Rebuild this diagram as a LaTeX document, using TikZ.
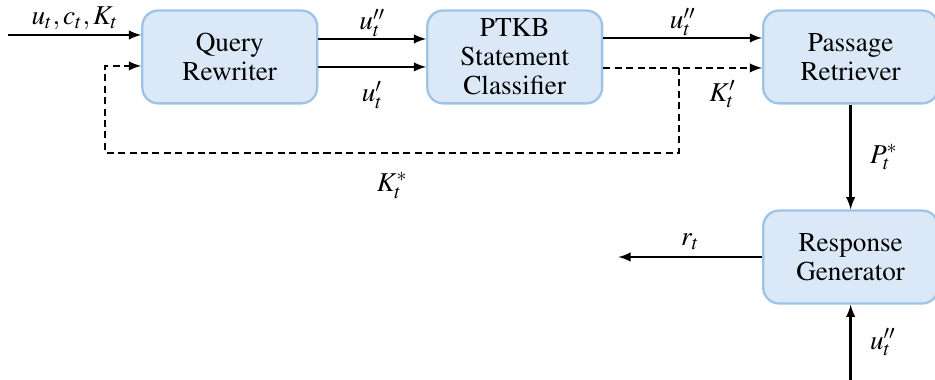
\documentclass[tikz,border=0pt]{standalone}
\usepackage[T1]{fontenc}
\usepackage{mathptmx}
\usepackage{xcolor}
\usepackage{tikz}
\usetikzlibrary{arrows, positioning, calc}
\definecolor{boxfill}{RGB}{218,232,247}
\definecolor{boxline}{RGB}{157,195,230}

\begin{document}
\begin{tikzpicture}[
    font=\rmfamily\fontsize{15.5}{16.5}\selectfont,
    box/.style={draw=boxline, line width=1.3pt, fill=boxfill, rounded corners=9pt, minimum width=3.5cm, minimum height=1.86cm, align=center},
    arrow/.style={->, line width=1.4pt, >=latex},
    dasharrow/.style={arrow, dash pattern=on 4pt off 2.5pt},
    toplabel/.style={above, inner sep=0pt, yshift=0.5pt}
]
    \useasboundingbox (-4.6,1.14) rectangle (14.12,-6.46);

    % Query Rewriter
    \node[box] (rewriter) {Query\\Rewriter};

    % PTKB Statement Classifier
    \node[box, right=2.16cm of rewriter] (classifier) {PTKB\\Statement\\Classifier};

    % Passage Retriever
    \node[box, right=3.18cm of classifier] (retriever) {Passage\\Retriever};

    % Response Generator
    \node[box, below=2.1cm of retriever] (generator) {Response\\Generator};

    % Input
    \coordinate (input) at ($(rewriter.west)+(-2.66,0.44)$);
    \draw[arrow] (input) -- (input -| rewriter.west) node[midway, toplabel, yshift=2pt] {$u_t, c_t, K_t$};

    % Rewriter -> Classifier
    \draw[arrow] ($(rewriter.east)+(0,0.36)$) -- ($(classifier.west)+(0,0.36)$) node[midway, toplabel] {$u_t''$};
    \draw[arrow] ($(rewriter.east)+(0,-0.2)$) -- ($(classifier.west)+(0,-0.2)$) node[midway, below=4pt] {$u_t'$};

    % Classifier -> Retriever
    \draw[arrow] ($(classifier.east)+(0,0.38)$) -- ($(retriever.west)+(0,0.38)$) node[midway, toplabel] {$u_t''$};
    \draw[dasharrow] ($(classifier.east)+(0,-0.22)$) -- ($(retriever.west)+(0,-0.22)$) node[pos=0.75, below=3pt] {$K_t'$};

    % Feedback loop
    \coordinate (fork) at ($(classifier.east)+(1.52,-0.22)$);
    \coordinate (back) at ($(rewriter.west)+(-0.72,-0.18)$);
    \draw[dasharrow] (fork) -- ++(0,-1.7) coordinate (corner) -- (corner -| back) node[midway, below=7pt] {$K_t^*$} -- (back) -- (rewriter.west |- back);

    % Retriever -> Generator
    \draw[arrow] (retriever.south) -- (generator.north) node[midway, right=7pt] {$P_t^*$};

    % Response
    \coordinate (out) at ($(generator.west)+(-2.88,0)$);
    \draw[arrow] (generator.west) -- (out) node[midway, above] {$r_t$};

    % Query into generator
    \coordinate (query) at ($(generator.south)+(0,-1.5)$);
    \draw[arrow] (query) -- (generator.south) node[midway, right=7pt] {$u_t''$};
\end{tikzpicture}
\end{document}
